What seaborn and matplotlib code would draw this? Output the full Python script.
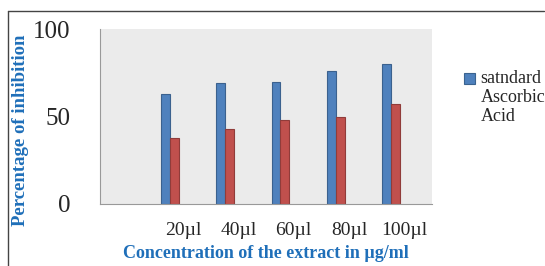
import numpy as np
import pandas as pd
import matplotlib.pyplot as plt
from matplotlib.lines import Line2D
from matplotlib.patches import Patch
import seaborn as sns

categories = ['', '20\u00b5l', '40\u00b5l', '60\u00b5l', '80\u00b5l', '100\u00b5l']
standard = [np.nan, 63, 69, 70, 76, 80]
extract = [np.nan, 37.5, 43, 48, 50, 57]
legend_label = 'satndard\nAscorbic\nAcid'

# excel left three empty series slots, so keep them in hue_order for spacing
series_order = ['standard', 'extract', 'pad1', 'pad2', 'pad3']
palette = {'standard': '#4F81BD', 'extract': '#C0504D',
           'pad1': 'w', 'pad2': 'w', 'pad3': 'w'}

df = pd.DataFrame({
    'Concentration': categories * 2,
    'Inhibition': standard + extract,
    'Series': ['standard'] * len(categories) + ['extract'] * len(categories),
})

sns.set_style('white')
plt.rcParams['font.family'] = ['Liberation Serif', 'DejaVu Serif']

fig = plt.figure(figsize=(5.45, 2.66), dpi=100)
ax = fig.add_axes([100 / 545, 1 - 204 / 266, 332 / 545, 175 / 266])
ax.set_facecolor('#EBEBEB')

sns.barplot(data=df, x='Concentration', y='Inhibition', hue='Series',
            hue_order=series_order, palette=palette, order=categories,
            width=0.8, dodge=True, legend=False, ax=ax, saturation=1,
            edgecolor=None, linewidth=0)
for p in ax.patches:
    fc = p.get_facecolor()
    p.set_edgecolor(tuple(c * 0.75 for c in fc[:3]))
    p.set_linewidth(0.8)

ax.set_xlim(-0.5, len(categories) - 0.5)
ax.set_ylim(0, 100)
ax.set_yticks([0, 50, 100])
ax.tick_params(axis='y', labelsize=18, length=7, width=0.8, color='#888888', pad=14)

ax.set_xticks(np.arange(-0.5, len(categories)), labels=[''] * (len(categories) + 1))
ax.set_xticks(np.arange(len(categories)), labels=categories, minor=True)
ax.tick_params(axis='x', which='major', length=5, width=0.8, color='#888888', direction='out')
ax.tick_params(axis='x', which='minor', length=0, labelsize=14, pad=13)

for side in ['top', 'right']:
    ax.spines[side].set_visible(False)
for side in ['left', 'bottom']:
    ax.spines[side].set_color('#999999')
    ax.spines[side].set_linewidth(0.8)

label_color = '#1F6FB9'
ax.set_xlabel('Concentration of the extract in \u00b5g/ml', fontsize=13,
              fontweight='bold', color=label_color)
ax.xaxis.set_label_coords(0.5, -(253 - 204) / 175)
ax.xaxis.label.set_va('center')
ax.set_ylabel('Percentage of inhibition', fontsize=13.5, fontweight='bold',
              color=label_color)
ax.yaxis.set_label_coords(-(100 - 21) / 332, 0.42)
ax.yaxis.label.set_va('center')

handles = [Patch(facecolor=palette['standard'], edgecolor='#3A6390', linewidth=0.8)]
leg = fig.legend(handles, [legend_label], loc='upper left',
                 bbox_to_anchor=(457 / 545, 1 - 63 / 266), frameon=False,
                 fontsize=13, handlelength=0.6, handleheight=0.6,
                 handletextpad=0.3, borderaxespad=0)
leg.get_texts()[0].set_linespacing(1.15)
for h in leg.legend_handles:
    h.set_y(h.get_y() + 14)

# border of the original chart box (only top and left survive the crop)
fig.add_artist(Line2D([8 / 545, 544 / 545], [1 - 11 / 266, 1 - 11 / 266],
                      color='#444444', linewidth=1))
fig.add_artist(Line2D([8 / 545, 8 / 545], [1 - 11 / 266, 0],
                      color='#444444', linewidth=1))

fig.savefig('out.png', dpi=100)
